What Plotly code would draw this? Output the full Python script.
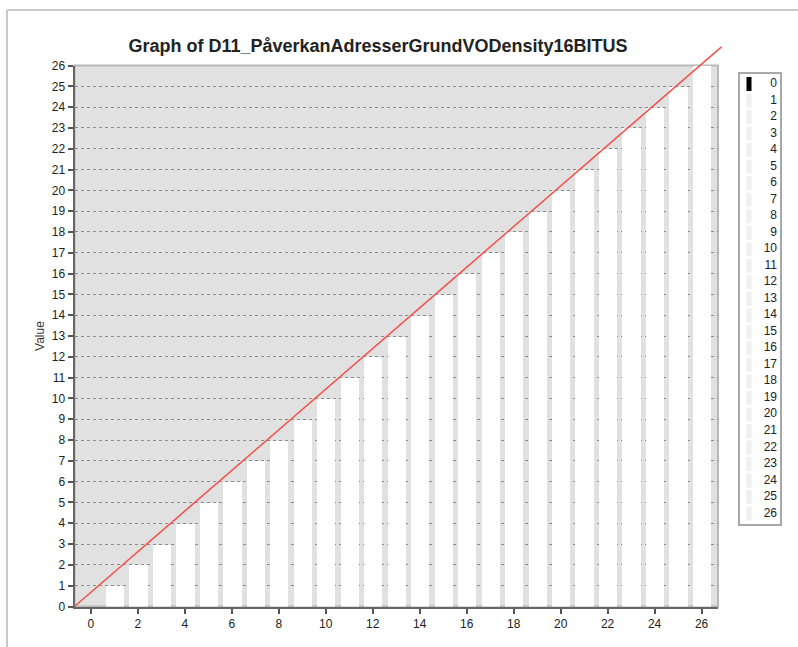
import plotly.graph_objects as go

# ---- data ----
categories = list(range(0, 27))
values = [0, 1, 2, 3, 4, 5, 6, 7, 8, 9, 10, 11, 12, 13, 14, 15, 16, 17, 18, 19,
          20, 21, 22, 23, 24, 25, 26]
legend_labels = [str(c) for c in categories]
x_ticks = [0, 2, 4, 6, 8, 10, 12, 14, 16, 18, 20, 22, 24, 26]
y_ticks = list(range(0, 27))
ref_line_x = [-0.7, 26.85]
ref_line_y = [0, 26.9]
title_text = "Graph of D11_PåverkanAdresserGrundVODensity16BITUS"

W, H = 798, 647
FONT = "Arial, Liberation Sans, sans-serif"

# layout geometry (pixels)
PL, PR, PT, PB = 74.5, 718, 65.5, 606.5
XR = [-0.7, 26.7]
YR = [0, 26]
xdom = [PL / W, PR / W]
ydom = [(H - PB) / H, (H - PT) / H]

bar_colors = ["#000000"] + ["#ffffff"] * (len(categories) - 1)
leg_colors = ["#000000"] + ["#efefef"] * (len(categories) - 1)

fig = go.Figure()
fig.add_trace(go.Bar(x=categories, y=values, width=0.78,
                     marker=dict(color=bar_colors, line=dict(width=0)),
                     showlegend=False, hoverinfo="x+y"))

# legend drawn as a small scatter panel
fig.add_trace(go.Scatter(x=[0] * len(categories), y=categories, mode="markers",
                         marker=dict(symbol="line-ns", size=10,
                                     line=dict(width=5, color=leg_colors)),
                         xaxis="x2", yaxis="y2", showlegend=False, hoverinfo="skip"))
fig.add_trace(go.Scatter(x=[1] * len(categories), y=categories, mode="text",
                         text=legend_labels, textposition="middle left",
                         textfont=dict(family=FONT, size=12, color="#222222"),
                         xaxis="x2", yaxis="y2", showlegend=False, hoverinfo="skip"))

def px_x(v):
    return (xdom[0] + (v - XR[0]) / (XR[1] - XR[0]) * (xdom[1] - xdom[0]))

def px_y(v):
    return (ydom[0] + (v - YR[0]) / (YR[1] - YR[0]) * (ydom[1] - ydom[0]))

shapes = [
    # window frame
    dict(type="line", xref="paper", yref="paper", x0=7 / W, x1=1, y0=1 - 10 / H, y1=1 - 10 / H,
         line=dict(color="#c8c8c8", width=2)),
    dict(type="line", xref="paper", yref="paper", x0=7 / W, x1=7 / W, y0=0, y1=1 - 10 / H,
         line=dict(color="#c8c8c8", width=2)),
    # plot wall (gray background + top/right border)
    dict(type="rect", xref="paper", yref="paper", x0=xdom[0], x1=xdom[1], y0=ydom[0], y1=ydom[1],
         fillcolor="#e1e1e1", line=dict(color="#b8b8b8", width=2), layer="below"),
    # reference line
    dict(type="line", xref="paper", yref="paper",
         x0=px_x(ref_line_x[0]), y0=px_y(ref_line_y[0]),
         x1=px_x(ref_line_x[1]), y1=px_y(ref_line_y[1]),
         line=dict(color="#f0554d", width=1.6), layer="above"),
]

fig.update_layout(
    width=W, height=H,
    margin=dict(l=0, r=0, t=0, b=0, autoexpand=False),
    paper_bgcolor="white", plot_bgcolor="rgba(0,0,0,0)",
    font=dict(family=FONT, size=12, color="#222222"),
    title=dict(text="<b>" + title_text + "</b>", x=378 / W, xanchor="center",
               y=1 - 46 / H, yanchor="middle", xref="paper", yref="paper",
               automargin=False,
               font=dict(family=FONT, size=18, color="#222222")),
    bargap=0,
    shapes=shapes,
    xaxis=dict(domain=xdom, range=XR, tickmode="array", tickvals=x_ticks,
               ticks="outside", ticklen=5, tickwidth=2, tickcolor="#555555",
               showline=True, linecolor="#666666", linewidth=2, automargin=False,
               showgrid=False, zeroline=False, fixedrange=True,
               tickfont=dict(family=FONT, size=12, color="#222222")),
    yaxis=dict(domain=ydom, range=YR, tickmode="array", tickvals=y_ticks,
               ticks="outside", ticklen=5, tickwidth=2, tickcolor="#555555",
               showline=True, linecolor="#666666", linewidth=2, automargin=False,
               showgrid=True, gridcolor="#8c8c8c", gridwidth=1, griddash="dot",
               zeroline=False, fixedrange=True,
               title=dict(text="Value", standoff=5,
                          font=dict(family=FONT, size=12, color="#333333")),
               tickfont=dict(family=FONT, size=12, color="#222222")),
    xaxis2=dict(domain=[740 / W, 780 / W], range=[-0.321, 1.107], anchor="y2",
                showgrid=False, zeroline=False, showticklabels=False, ticks="",
                showline=True, mirror=True, linecolor="#a8a8a8", linewidth=1.5,
                automargin=False, fixedrange=True),
    yaxis2=dict(domain=[(H - 524) / H, (H - 73.5) / H], range=[26.63, -0.635], anchor="x2",
                showgrid=False, zeroline=False, showticklabels=False, ticks="",
                showline=True, mirror=True, linecolor="#a8a8a8", linewidth=1.5,
                automargin=False, fixedrange=True),
    showlegend=False,
)

fig.write_html("out.html")
